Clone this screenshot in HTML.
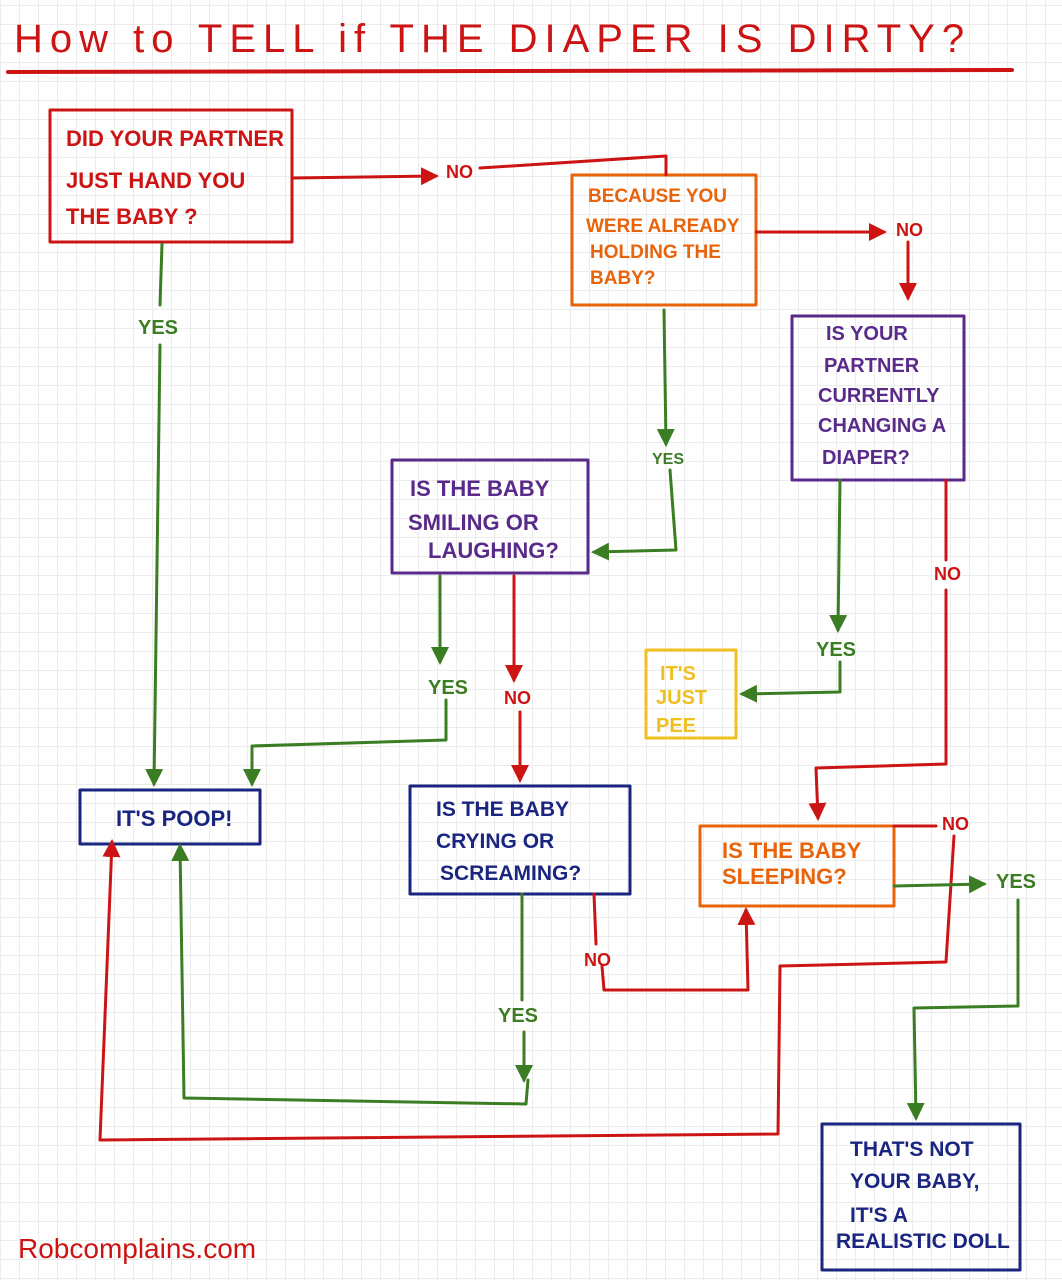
<!DOCTYPE html>
<html><head><meta charset="utf-8"><style>
html,body{margin:0;padding:0;background:#fff}
body{width:1062px;height:1280px;overflow:hidden;
background-image:linear-gradient(#ececec 1px,transparent 1px),linear-gradient(90deg,#ececec 1px,transparent 1px);
background-size:19px 19px;background-position:0 5px}
svg{position:absolute;left:0;top:0}
text{font-family:"Liberation Sans",sans-serif;font-weight:bold}
</style></head><body>
<svg width="1062" height="1280" viewBox="0 0 1062 1280">
<defs>
<marker id="ar" markerWidth="6" markerHeight="6" refX="5" refY="3" orient="auto"><path d="M0,0L6,3L0,6z" fill="#cc1414"/></marker>
<marker id="ag" markerWidth="6" markerHeight="6" refX="5" refY="3" orient="auto"><path d="M0,0L6,3L0,6z" fill="#3b7d22"/></marker>
</defs>
<g fill="none" stroke-width="3" stroke-linecap="round" stroke-linejoin="round">
<text x="14" y="52" font-size="40" fill="#cc1414" stroke="none" style="font-weight:normal" letter-spacing="7">How to TELL if THE DIAPER IS DIRTY?</text>
<path d="M8 72 L1012 70" stroke="#cc1414" stroke-width="4"/>
<rect x="50" y="110" width="242" height="132" stroke="#cc1414"/>
<rect x="572" y="175" width="184" height="130" stroke="#e8630a"/>
<rect x="792" y="316" width="172" height="164" stroke="#5a2a8a"/>
<rect x="392" y="460" width="196" height="113" stroke="#5a2a8a"/>
<rect x="646" y="650" width="90" height="88" stroke="#f0c020"/>
<rect x="80" y="790" width="180" height="54" stroke="#1a2580"/>
<rect x="410" y="786" width="220" height="108" stroke="#1a2580"/>
<rect x="700" y="826" width="194" height="80" stroke="#e8630a"/>
<rect x="822" y="1124" width="198" height="146" stroke="#1a2580"/>
<path d="M292 178 L436 176" stroke="#cc1414" marker-end="url(#ar)"/>
<path d="M480 168 L666 156 L666 175" stroke="#cc1414"/>
<path d="M756 232 L884 232" stroke="#cc1414" marker-end="url(#ar)"/>
<path d="M908 242 L908 298" stroke="#cc1414" marker-end="url(#ar)"/>
<path d="M514 576 L514 680" stroke="#cc1414" marker-end="url(#ar)"/>
<path d="M520 712 L520 780" stroke="#cc1414" marker-end="url(#ar)"/>
<path d="M946 480 L946 560 M946 590 L946 764 L816 768 L818 818" stroke="#cc1414" marker-end="url(#ar)"/>
<path d="M894 826 L936 826" stroke="#cc1414"/>
<path d="M954 836 L946 962 L780 966 L778 1134 L100 1140 L112 842" stroke="#cc1414" marker-end="url(#ar)"/>
<path d="M594 894 L596 944 M602 966 L604 990 L748 990 L746 910" stroke="#cc1414" marker-end="url(#ar)"/>
<path d="M162 244 L160 305 M160 345 L154 784" stroke="#3b7d22" marker-end="url(#ag)"/>
<path d="M664 310 L666 444" stroke="#3b7d22" marker-end="url(#ag)"/>
<path d="M670 470 L676 550 L594 552" stroke="#3b7d22" marker-end="url(#ag)"/>
<path d="M440 576 L440 662" stroke="#3b7d22" marker-end="url(#ag)"/>
<path d="M446 700 L446 740 L252 746 L252 784" stroke="#3b7d22" marker-end="url(#ag)"/>
<path d="M840 480 L838 630" stroke="#3b7d22" marker-end="url(#ag)"/>
<path d="M840 662 L840 692 L742 694" stroke="#3b7d22" marker-end="url(#ag)"/>
<path d="M522 894 L522 1000 M524 1032 L524 1080" stroke="#3b7d22" marker-end="url(#ag)"/>
<path d="M528 1080 L526 1104 L184 1098 L180 846" stroke="#3b7d22" marker-end="url(#ag)"/>
<path d="M894 886 L984 884" stroke="#3b7d22" marker-end="url(#ag)"/>
<path d="M1018 900 L1018 1006 L914 1008 L916 1118" stroke="#3b7d22" marker-end="url(#ag)"/>
</g>
<g stroke="none">
<text fill="#cc1414" font-size="22"><tspan x="66" y="146">DID YOUR PARTNER</tspan><tspan x="66" y="188">JUST HAND YOU</tspan><tspan x="66" y="224">THE BABY ?</tspan></text>
<text fill="#e8630a" font-size="19"><tspan x="588" y="202">BECAUSE YOU</tspan><tspan x="586" y="232">WERE ALREADY</tspan><tspan x="590" y="258">HOLDING THE</tspan><tspan x="590" y="284">BABY?</tspan></text>
<text fill="#5a2a8a" font-size="20"><tspan x="826" y="340">IS YOUR</tspan><tspan x="824" y="372">PARTNER</tspan><tspan x="818" y="402">CURRENTLY</tspan><tspan x="818" y="432">CHANGING A</tspan><tspan x="822" y="464">DIAPER?</tspan></text>
<text fill="#5a2a8a" font-size="22"><tspan x="410" y="496">IS THE BABY</tspan><tspan x="408" y="530">SMILING OR</tspan><tspan x="428" y="558">LAUGHING?</tspan></text>
<text fill="#f0c020" font-size="20"><tspan x="660" y="680">IT'S</tspan><tspan x="656" y="704">JUST</tspan><tspan x="656" y="732">PEE</tspan></text>
<text fill="#1a2580" font-size="22" x="116" y="826">IT'S POOP!</text>
<text fill="#1a2580" font-size="21"><tspan x="436" y="816">IS THE BABY</tspan><tspan x="436" y="848">CRYING OR</tspan><tspan x="440" y="880">SCREAMING?</tspan></text>
<text fill="#e8630a" font-size="22"><tspan x="722" y="858">IS THE BABY</tspan><tspan x="722" y="884">SLEEPING?</tspan></text>
<text fill="#1a2580" font-size="21"><tspan x="850" y="1156">THAT'S NOT</tspan><tspan x="850" y="1188">YOUR BABY,</tspan><tspan x="850" y="1222">IT'S A</tspan><tspan x="836" y="1248">REALISTIC DOLL</tspan></text>
<g fill="#cc1414" font-size="18"><text x="446" y="178">NO</text><text x="896" y="236">NO</text><text x="934" y="580">NO</text><text x="504" y="704">NO</text><text x="942" y="830">NO</text><text x="584" y="966">NO</text></g>
<g fill="#3b7d22" font-size="20"><text x="138" y="334">YES</text><text x="652" y="464" font-size="16">YES</text><text x="428" y="694">YES</text><text x="816" y="656">YES</text><text x="498" y="1022">YES</text><text x="996" y="888">YES</text></g>
<text x="18" y="1258" fill="#cc1414" font-size="28" style="font-weight:normal">Robcomplains.com</text>
</g>
</svg>
</body></html>
